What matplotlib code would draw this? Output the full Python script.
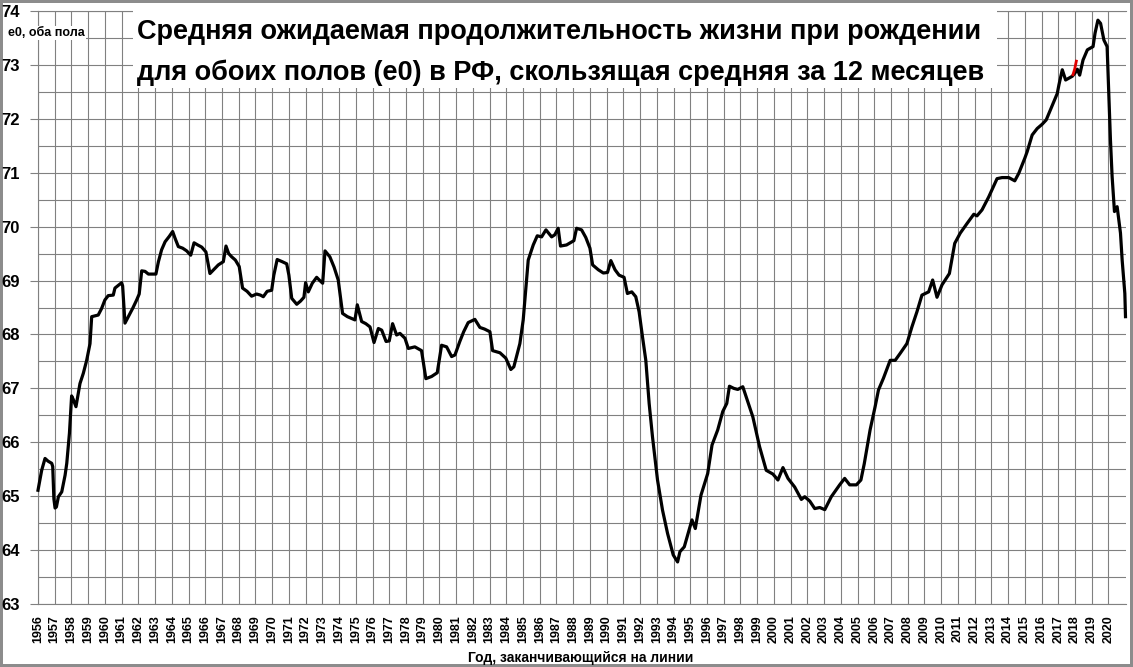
import matplotlib
matplotlib.use("Agg")
import matplotlib.pyplot as plt
from matplotlib.patches import Rectangle
from matplotlib.ticker import MultipleLocator

# ---- data ----
years = [
    1956.0, 1956.22, 1956.42, 1956.6, 1956.82, 1956.88, 1956.95, 1957.02, 1957.1, 1957.22,
    1957.42, 1957.62, 1957.72, 1957.88, 1958.01, 1958.1, 1958.27, 1958.51, 1958.71, 1958.91,
    1959.11, 1959.21, 1959.6, 1959.8, 1960.0, 1960.2, 1960.5, 1960.6, 1961.0, 1961.06,
    1961.2, 1961.4, 1961.67, 1961.9, 1962.05, 1962.2, 1962.4, 1962.6, 1963.05, 1963.2,
    1963.39, 1963.6, 1963.85, 1964.05, 1964.2, 1964.39, 1964.65, 1964.89, 1965.13, 1965.33,
    1965.55, 1965.79, 1966.04, 1966.28, 1966.5, 1966.78, 1967.08, 1967.24, 1967.4, 1967.58,
    1967.8, 1968.03, 1968.23, 1968.5, 1968.77, 1969.07, 1969.3, 1969.47, 1969.7, 1969.97,
    1970.1, 1970.3, 1970.6, 1970.87, 1971.0, 1971.17, 1971.47, 1971.7, 1971.9, 1972.0,
    1972.16, 1972.4, 1972.66, 1972.85, 1973.02, 1973.16, 1973.45, 1973.7, 1973.95, 1974.21,
    1974.5, 1974.95, 1975.09, 1975.35, 1975.6, 1975.85, 1976.09, 1976.35, 1976.55, 1976.81,
    1977.0, 1977.2, 1977.44, 1977.64, 1977.94, 1978.14, 1978.53, 1978.93, 1979.19, 1979.53,
    1979.87, 1980.13, 1980.43, 1980.73, 1980.93, 1981.22, 1981.45, 1981.72, 1982.12, 1982.42,
    1982.7, 1983.02, 1983.18, 1983.62, 1983.97, 1984.27, 1984.45, 1984.81, 1985.01, 1985.31,
    1985.61, 1985.85, 1986.11, 1986.37, 1986.71, 1986.9, 1987.1, 1987.24, 1987.6, 1988.04,
    1988.2, 1988.5, 1988.75, 1989.0, 1989.16, 1989.5, 1989.8, 1990.05, 1990.25, 1990.5,
    1990.74, 1991.04, 1991.24, 1991.5, 1991.74, 1991.94, 1992.14, 1992.34, 1992.54, 1992.74,
    1993.04, 1993.34, 1993.64, 1993.98, 1994.24, 1994.38, 1994.64, 1994.9, 1995.1, 1995.3,
    1995.64, 1996.04, 1996.3, 1996.64, 1996.94, 1997.18, 1997.34, 1997.6, 1997.84, 1998.14,
    1998.44, 1998.74, 1999.14, 1999.54, 1999.94, 2000.24, 2000.54, 2000.84, 2001.24, 2001.64,
    2001.84, 2002.14, 2002.44, 2002.74, 2003.04, 2003.43, 2003.93, 2004.23, 2004.53, 2004.93,
    2005.2, 2005.4, 2005.75, 2006.05, 2006.25, 2006.55, 2006.95, 2007.25, 2007.55, 2007.95,
    2008.25, 2008.55, 2008.85, 2009.25, 2009.49, 2009.75, 2010.05, 2010.49, 2010.81, 2011.14,
    2011.55, 2011.95, 2012.14, 2012.44, 2012.84, 2013.34, 2013.64, 2014.04, 2014.4, 2014.64,
    2015.0, 2015.14, 2015.44, 2015.74, 2016.04, 2016.28, 2016.6, 2016.94, 2017.04, 2017.24,
    2017.44, 2017.84, 2018.0, 2018.14, 2018.28, 2018.48, 2018.74, 2019.08, 2019.2, 2019.37,
    2019.53, 2019.73, 2019.92, 2020.03, 2020.12, 2020.22, 2020.36, 2020.52, 2020.72, 2020.82,
    2020.98, 2021.02,
]
e0 = [
    65.11, 65.48, 65.70, 65.65, 65.61, 65.55, 64.95, 64.78, 64.80, 64.99,
    65.08, 65.39, 65.61, 66.17, 66.86, 66.80, 66.66, 67.09, 67.28, 67.52,
    67.83, 68.33, 68.36, 68.48, 68.64, 68.72, 68.73, 68.86, 68.96, 68.90,
    68.21, 68.33, 68.49, 68.64, 68.75, 69.18, 69.17, 69.12, 69.12, 69.35,
    69.57, 69.72, 69.82, 69.91, 69.78, 69.63, 69.60, 69.55, 69.47, 69.70,
    69.66, 69.62, 69.53, 69.13, 69.20, 69.29, 69.35, 69.64, 69.50, 69.44,
    69.38, 69.26, 68.86, 68.80, 68.71, 68.75, 68.73, 68.70, 68.80, 68.82,
    69.10, 69.39, 69.35, 69.31, 69.10, 68.67, 68.56, 68.62, 68.69, 68.96,
    68.79, 68.95, 69.06, 69.00, 68.95, 69.55, 69.44, 69.25, 69.01, 68.39,
    68.33, 68.27, 68.55, 68.24, 68.20, 68.14, 67.85, 68.11, 68.08, 67.87,
    67.88, 68.20, 67.99, 68.02, 67.93, 67.74, 67.77, 67.70, 67.18, 67.22,
    67.29, 67.80, 67.77, 67.59, 67.62, 67.87, 68.05, 68.22, 68.28, 68.13,
    68.10, 68.05, 67.70, 67.66, 67.56, 67.35, 67.40, 67.83, 68.27, 69.38,
    69.66, 69.83, 69.81, 69.94, 69.81, 69.85, 69.97, 69.64, 69.66, 69.74,
    69.97, 69.94, 69.80, 69.60, 69.29, 69.20, 69.14, 69.15, 69.37, 69.20,
    69.10, 69.06, 68.76, 68.79, 68.70, 68.42, 67.96, 67.52, 66.72, 66.10,
    65.30, 64.74, 64.31, 63.91, 63.78, 63.97, 64.06, 64.34, 64.56, 64.40,
    65.02, 65.42, 65.95, 66.23, 66.57, 66.72, 67.04, 67.00, 66.98, 67.03,
    66.75, 66.47, 65.92, 65.48, 65.41, 65.30, 65.53, 65.33, 65.17, 64.94,
    64.99, 64.91, 64.77, 64.79, 64.75, 64.99, 65.21, 65.33, 65.21, 65.21,
    65.30, 65.60, 66.23, 66.66, 66.97, 67.19, 67.52, 67.52, 67.65, 67.83,
    68.14, 68.42, 68.73, 68.79, 69.01, 68.69, 68.92, 69.13, 69.69, 69.88,
    70.06, 70.23, 70.20, 70.31, 70.55, 70.89, 70.91, 70.91, 70.85, 70.99,
    71.27, 71.39, 71.70, 71.82, 71.90, 71.98, 72.22, 72.47, 72.63, 72.91,
    72.72, 72.79, 72.85, 72.92, 72.81, 73.09, 73.28, 73.34, 73.59, 73.83,
    73.77, 73.46, 73.34, 72.41, 71.61, 70.93, 70.28, 70.37, 69.88, 69.38,
    68.76, 68.33,
]
# short red highlighted piece
red_years = [2017.88, 2017.98, 2018.08]
red_e0 = [72.82, 72.92, 73.07]

year_ticks = list(range(1956, 2021))
value_ticks = list(range(63, 75))

title_line1 = "Средняя ожидаемая продолжительность жизни при рождении"
title_line2 = "для обоих полов (e0) в РФ, скользящая средняя за 12 месяцев"
y_label = "e0, оба пола"
x_label = "Год, заканчивающийся на линии"

# ---- figure ----
W, H = 1133, 667
plt.rcParams['font.family'] = ['Liberation Sans', 'DejaVu Sans']
fig = plt.figure(figsize=(W / 100, H / 100), dpi=100)
fig.patch.set_facecolor('white')
fig.patch.set_edgecolor('#8c8c8c')
fig.patch.set_linewidth(3)

GRID = '#808080'
left_px, right_px, top_px, bot_px = 38, 1126, 11, 604
ax = fig.add_axes([left_px / W, 1 - bot_px / H, (right_px - left_px) / W, (bot_px - top_px) / H])
ax.set_xlim(1956, 2021.05)
ax.set_ylim(63, 74)

ax.set_xticks(year_ticks)
ax.set_xticklabels([str(y) for y in year_ticks], rotation=90, fontsize=9, fontweight='bold')
ax.set_yticks(value_ticks)
ax.set_yticklabels([str(v) for v in value_ticks], fontsize=12, fontweight='bold')
ax.yaxis.set_minor_locator(MultipleLocator(0.5))

ax.tick_params(axis='x', length=0, pad=8)
ax.tick_params(axis='y', which='major', length=6, width=0.8, color=GRID, pad=7)
ax.tick_params(axis='y', which='minor', length=0)
ax.grid(axis='x', color=GRID, lw=0.8)
ax.grid(axis='y', which='both', color=GRID, lw=0.8)
ax.set_axisbelow(True)
for side in ('left', 'bottom', 'top'):
    ax.spines[side].set_color(GRID)
    ax.spines[side].set_linewidth(0.8)
ax.spines['right'].set_visible(False)

ax.plot(years, e0, color='black', lw=2.3, solid_joinstyle='round', zorder=3, clip_on=False)
ax.plot(red_years, red_e0, color='#e00000', lw=2.0, zorder=4)

# title with white background box covering the grid
fig.patches.append(Rectangle((133 / W, 1 - 88 / H), (997 - 133) / W, (88 - 10) / H,
                             transform=fig.transFigure, facecolor='white', edgecolor='none', zorder=1))
fig.text(137 / W, 1 - 39 / H, title_line1, fontsize=19.5, fontweight='bold', ha='left', va='baseline', zorder=3)
fig.text(137 / W, 1 - 80 / H, title_line2, fontsize=19.5, fontweight='bold', ha='left', va='baseline', zorder=3)

fig.text(8 / W, 1 - 33 / H, y_label, fontsize=9, fontweight='bold', ha='left', va='center',
         bbox=dict(facecolor='white', edgecolor='none', pad=1), zorder=3)
fig.text(581 / W, 1 - 662 / H, x_label, fontsize=10, fontweight='bold', ha='center', va='baseline', zorder=3)

fig.savefig('out.png', dpi=100)
